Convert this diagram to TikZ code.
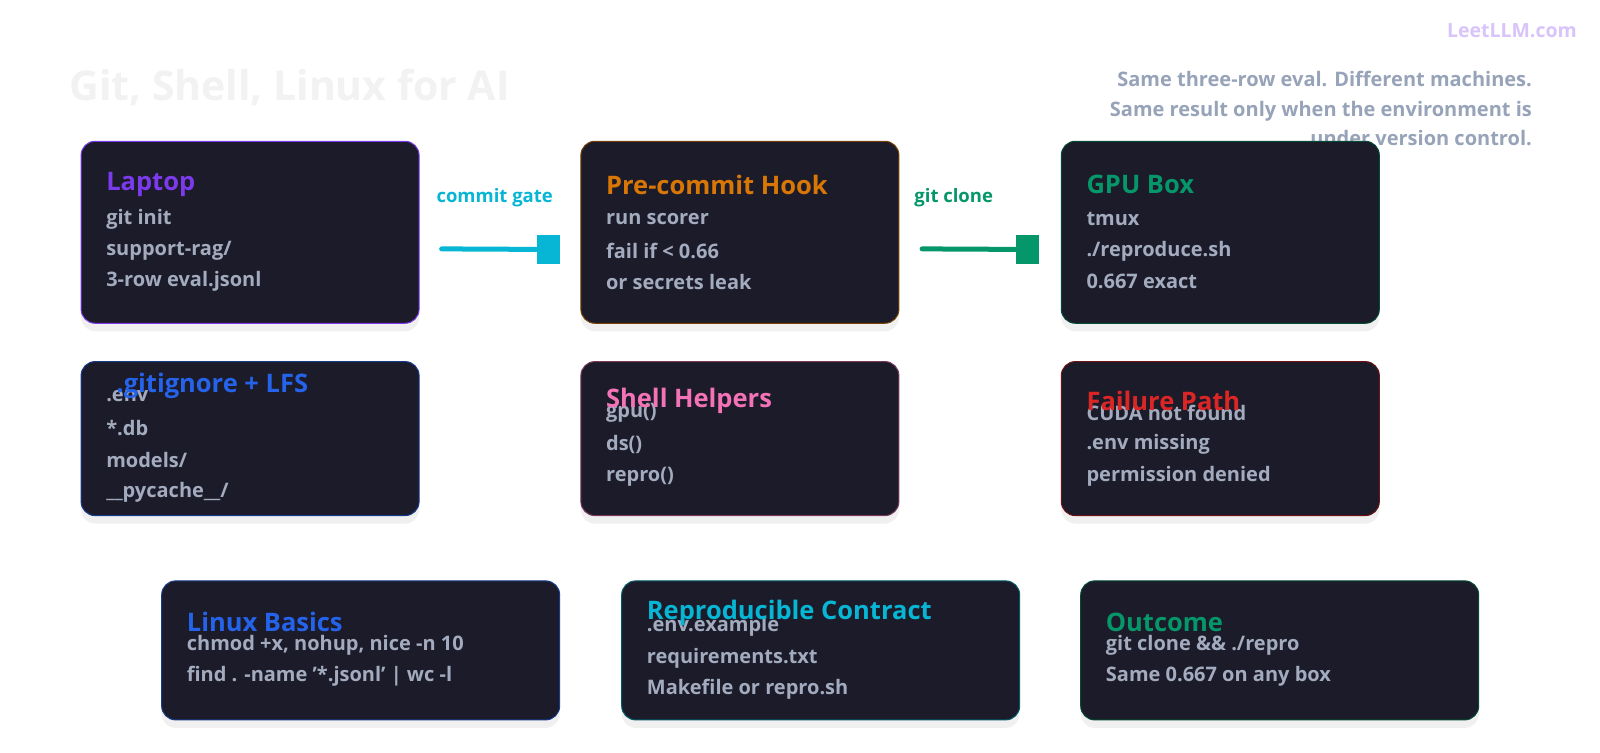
\documentclass[tikz,border=0pt]{standalone}
\usepackage{fontspec}
\setmainfont{Open Sans}
\usetikzlibrary{positioning, shadows}
\definecolor{boxbg}{HTML}{1C1B29}
\definecolor{bodytxt}{HTML}{A3ACBF}
\definecolor{capgray}{HTML}{97A3B8}
\definecolor{cpurple}{HTML}{7C3AED}
\definecolor{corange}{HTML}{D97706}
\definecolor{cgreen}{HTML}{059669}
\definecolor{cblue}{HTML}{2563EB}
\definecolor{cpink}{HTML}{F472B6}
\definecolor{cred}{HTML}{DC2626}
\definecolor{ccyan}{HTML}{06B6D4}
\tikzset{
  card/.style={rectangle, rounded corners=14pt, fill=boxbg, line width=1pt, anchor=north west, inner sep=0pt,
    drop shadow={shadow xshift=0pt, shadow yshift=-8pt, opacity=0.06, fill=black}},
  head/.style={anchor=west, inner sep=0pt, font=\fontsize{25.5}{30}\selectfont\bfseries},
  line/.style={anchor=west, inner sep=0pt, text=bodytxt, font=\fontsize{20}{24}\selectfont\bfseries},
  gate/.style={anchor=south, inner sep=0pt, font=\fontsize{18.5}{22}\selectfont\bfseries},
  link/.style={line width=5pt, line cap=round},
}
\begin{document}
\begin{tikzpicture}[x=1.02pt, y=-1.02pt]
\fill[white] (0,0) rectangle (1568.6,737.3);
% title and caption
\node (title) [anchor=west, inner sep=0pt, text=black!5, font=\fontsize{41}{48}\selectfont\bfseries] at (68,86) {Git, Shell, Linux for AI};
\node (brand) [anchor=east, inner sep=0pt, text=cpurple!30, font=\fontsize{19.5}{24}\selectfont\bfseries] at (1546,30) {LeetLLM.com};
\node (cap) [anchor=north east, align=right, inner sep=0pt, text=capgray, font=\fontsize{20}{29.5}\selectfont\bfseries] at (1502,70) {Same three-row eval. Different machines.\\Same result only when the environment is\\under version control.};
% row 1
\node (laptop) [card, draw=cpurple, minimum width=338pt, minimum height=182pt] at (79,138) {};
\node (laptopT) [head, text=cpurple] at (104,181) {Laptop};
\node (laptop1) [line] at (104,215) {git init};
\node (laptop2) [line] at (104,246) {support-rag/};
\node (laptop3) [line] at (104,276) {3-row eval.jsonl};
\node (hook) [card, draw=corange!55!black, minimum width=318pt, minimum height=182pt] at (569,138) {};
\node (hookT) [head, text=corange] at (594,181) {Pre-commit Hook};
\node (hook1) [line] at (594,215) {run scorer};
\node (hook2) [line] at (594,246) {fail if < 0.66};
\node (hook3) [line] at (594,276) {or secrets leak};
\node (gpu) [card, draw=cgreen!50!black, minimum width=318pt, minimum height=182pt] at (1040,138) {};
\node (gpuT) [head, text=cgreen] at (1065,181) {GPU Box};
\node (gpu1) [line] at (1065,215) {tmux};
\node (gpu2) [line] at (1065,246) {./reproduce.sh};
\node (gpu3) [line] at (1065,276) {0.667 exact};
% connectors
\coordinate (g1) at (433,244);
\node (sq1) [fill=ccyan, minimum width=23.5pt, minimum height=29.5pt, inner sep=0pt] at (537.5,244.5) {};
\draw[link, ccyan] (g1) -- (sq1.west);
\node (gate1) [gate, text=ccyan] at (485,203) {commit gate};
\coordinate (g2) at (904,244);
\node (sq2) [fill=cgreen, minimum width=23.5pt, minimum height=29.5pt, inner sep=0pt] at (1007.5,244.5) {};
\draw[link, cgreen] (g2) -- (sq2.west);
\node (gate2) [gate, text=cgreen] at (935,203) {git clone};
% row 2
\node (ignore) [card, draw=cblue!60!black, minimum width=338pt, minimum height=154pt] at (79,354) {};
\node (ignore1) [line] at (104,388) {.env};
\node (ignore2) [line] at (104,420) {*.db};
\node (ignore3) [line] at (104,451) {models/};
\node (ignore4) [line] at (104,483) {\_\_pycache\_\_/};
\node (ignoreT) [head, text=cblue] at (114,378) {.gitignore + LFS};
\node (shell) [card, draw=cpink!50!black, minimum width=318pt, minimum height=154pt] at (569,354) {};
\node (shell1) [line] at (594,405) {gpu()};
\node (shell2) [line] at (594,436) {ds()};
\node (shell3) [line] at (594,467) {repro()};
\node (shellT) [head, text=cpink] at (594,393) {Shell Helpers};
\node (fail) [card, draw=cred!50!black, minimum width=318pt, minimum height=154pt] at (1040,354) {};
\node (fail1) [line] at (1065,405) {CUDA not found};
\node (fail2) [line] at (1065,436) {.env missing};
\node (fail3) [line] at (1065,467) {permission denied};
\node (failT) [head, text=cred] at (1065,393) {Failure Path};
% row 3
\node (linux) [card, draw=cblue!60!black, minimum width=398pt, minimum height=139pt] at (158,569) {};
\node (linux1) [line] at (183,633) {chmod +x, nohup, nice -n 10};
\node (linux2) [line] at (183,663) {find . -name '*.jsonl' | wc -l};
\node (linuxT) [head, text=cblue] at (183,610) {Linux Basics};
\node (repro) [card, draw=ccyan!50!black, minimum width=398pt, minimum height=139pt] at (609,569) {};
\node (repro1) [line] at (634,614) {.env.example};
\node (repro2) [line] at (634,645) {requirements.txt};
\node (repro3) [line] at (634,676) {Makefile or repro.sh};
\node (reproT) [head, text=ccyan] at (634,601) {Reproducible Contract};
\node (outcome) [card, draw=cgreen!50!black, minimum width=398pt, minimum height=139pt] at (1059,569) {};
\node (outcome1) [line] at (1084,633) {git clone \&\& ./repro};
\node (outcome2) [line] at (1084,663) {Same 0.667 on any box};
\node (outcomeT) [head, text=cgreen] at (1084,610) {Outcome};
\pgfresetboundingbox
\useasboundingbox (0,0) rectangle (1568.6,737.3);
\end{tikzpicture}
\end{document}
